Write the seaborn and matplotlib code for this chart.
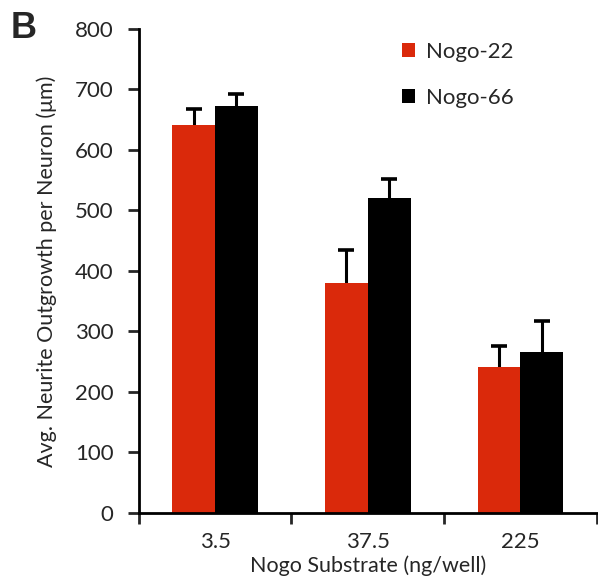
import numpy as np
import pandas as pd
import matplotlib
matplotlib.use("Agg")
import matplotlib.pyplot as plt
import seaborn as sns

# Datos
substrato = ["3.5", "37.5", "225"]
series = ["Nogo-22", "Nogo-66"]
nogo22 = [641, 380, 241]
nogo66 = [673, 520, 266]
err22 = [27, 55, 35]
err66 = [20, 32, 51]

colores = {"Nogo-22": "#DA290B", "Nogo-66": "#000000"}

df = pd.DataFrame({
    "Substrato": substrato * 2,
    "Serie": ["Nogo-22"] * 3 + ["Nogo-66"] * 3,
    "Valor": nogo22 + nogo66,
    "Error": err22 + err66,
})

sns.set_style("white")
plt.rcParams["font.family"] = ["Lato", "DejaVu Sans"]

fig = plt.figure(figsize=(5.98, 5.79), dpi=100)
ax = fig.add_axes([0.232, 0.114, 0.766, 0.836])

sns.barplot(data=df, x="Substrato", y="Valor", hue="Serie", order=substrato,
            hue_order=series, palette=colores, width=0.56, saturation=1,
            errorbar=None, ax=ax, linewidth=0)

# Barras de error solo hacia arriba (sin tapa inferior)
for cont, serie in zip(ax.containers, series):
    sub = df[df["Serie"] == serie].set_index("Substrato").loc[substrato]
    xs = np.array([p.get_x() + p.get_width() / 2 for p in cont.patches])
    hs = np.array([p.get_height() for p in cont.patches])
    tops = hs + sub["Error"].values
    ax.errorbar(xs, hs, yerr=[np.zeros(len(xs)), sub["Error"].values],
                fmt="none", ecolor="black", elinewidth=2.2, capsize=0,
                zorder=0.5)
    ax.plot(xs, tops, linestyle="none", marker="_", markersize=12,
            markeredgewidth=2.6, color="black", zorder=0.5)

ax.set_xlim(-0.5, 2.5)
ax.set_ylim(0, 800)
ax.set_yticks(range(0, 801, 100))
ax.tick_params(axis="y", labelsize=16, length=8, width=2, direction="out",
               left=True, pad=10)
ax.set_xticks([0, 1, 2])
ax.set_xticklabels(substrato)
ax.set_xticks([-0.5, 0.5, 1.5, 2.5], minor=True)
ax.tick_params(axis="x", which="major", length=0, labelsize=16, pad=14)
ax.tick_params(axis="x", which="minor", length=8, width=2, direction="out",
               bottom=True)

for lado in ["top", "right"]:
    ax.spines[lado].set_visible(False)
for lado in ["left", "bottom"]:
    ax.spines[lado].set_linewidth(2)
    ax.spines[lado].set_color("black")

ax.set_xlabel("Nogo Substrate (ng/well)", fontsize=15.5, labelpad=2)
ax.set_ylabel("Avg. Neurite Outgrowth per Neuron (\u03bcm)", fontsize=15.5,
              labelpad=13)

ax.legend(loc="upper left", bbox_to_anchor=(0.53, 1.014), frameon=False,
          fontsize=16, handlelength=0.6, handleheight=0.6, labelspacing=1.15,
          handletextpad=0.5)

fig.text(0.018, 0.934, "B", fontsize=26, fontweight="bold",
         family=["Liberation Sans", "DejaVu Sans"])

fig.savefig("out.png", dpi=100)
